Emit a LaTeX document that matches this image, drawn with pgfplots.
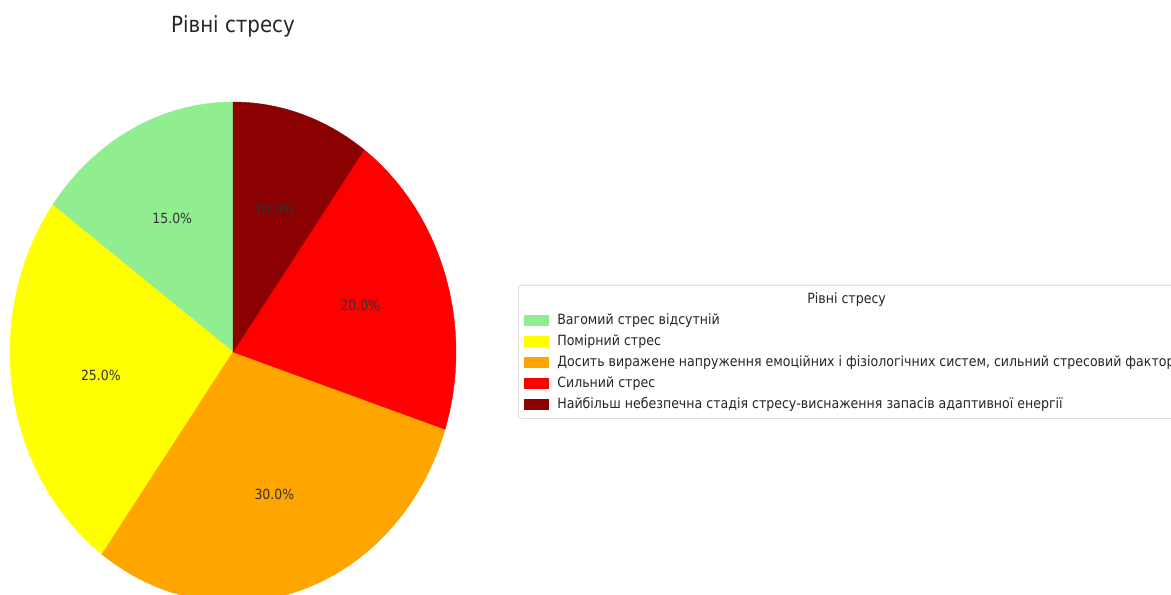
\documentclass[border=0pt]{standalone}
\usepackage{pgfplots}
\pgfplotsset{compat=1.18}
\usepackage{fontspec}
\setmainfont{DejaVu Sans}[FakeStretch=0.89]
\definecolor{lightgreen}{HTML}{90EE90}
\definecolor{pieyellow}{HTML}{FFFF00}
\definecolor{pieorange}{HTML}{FFA500}
\definecolor{piered}{HTML}{FF0000}
\definecolor{darkred}{HTML}{8B0000}
\definecolor{txt}{HTML}{262626}
\definecolor{lbl}{HTML}{333333}
\begin{document}
\begin{tikzpicture}
\useasboundingbox (0pt,0pt) rectangle (878.25pt,445.5pt);
\clip (0pt,0pt) rectangle (878.25pt,445.5pt);
\node[font=\fontsize{16.7}{20}\selectfont, text=txt] at (174.75pt,426pt) {Рівні стресу};
\begin{axis}[
  at={(174.75pt,181.5pt)}, anchor=center,
  scale only axis, width=334.5pt, height=375pt,
  xmin=-1, xmax=1, ymin=-1, ymax=1,
  hide axis, clip=false,
  legend style={at={(1.139,0.634)}, anchor=north west,
    draw=black!20, rounded corners=2pt, fill=white,
    font=\fontsize{10.6}{12.5}\selectfont, text=txt,
    inner xsep=4.5pt, inner ysep=4.5pt, row sep=3.75pt, column sep=5.5pt,
    nodes={inner sep=1pt, text height=7.8pt, text depth=2.2pt}},
  legend cell align=left,
  legend image code/.code={\fill[#1, sharp corners] (0pt,-3.5pt) rectangle (18pt,3.5pt);},
]
\addlegendimage{empty legend}
\addlegendentry{\hspace{187.5pt}Рівні стресу}
% values: 15, 25, 30, 20, 10 (percent), counter-clockwise from 90 deg
\addplot[fill=lightgreen, draw=lightgreen, line width=0.3pt, domain=90:90+3.6*15, samples=60] ({cos(x)},{sin(x)}) -- (axis cs:0,0) -- cycle;
\addlegendentry{Вагомий стрес відсутній}
\addplot[fill=pieyellow, draw=pieyellow, line width=0.3pt, domain=90+3.6*15:90+3.6*40, samples=60] ({cos(x)},{sin(x)}) -- (axis cs:0,0) -- cycle;
\addlegendentry{Помірний стрес}
\addplot[fill=pieorange, draw=pieorange, line width=0.3pt, domain=90+3.6*40:90+3.6*70, samples=60] ({cos(x)},{sin(x)}) -- (axis cs:0,0) -- cycle;
\addlegendentry{Досить виражене напруження емоційних і фізіологічних систем, сильний стресовий фактор}
\addplot[fill=piered, draw=piered, line width=0.3pt, domain=90+3.6*70:90+3.6*90, samples=60] ({cos(x)},{sin(x)}) -- (axis cs:0,0) -- cycle;
\addlegendentry{Сильний стрес}
\addplot[fill=darkred, draw=darkred, line width=0.3pt, domain=90+3.6*90:90+3.6*100, samples=60] ({cos(x)},{sin(x)}) -- (axis cs:0,0) -- cycle;
\addlegendentry{Найбільш небезпечна стадія стресу-виснаження запасів адаптивної енергії}
\begin{scope}[every node/.style={font=\fontsize{10.5}{12}\selectfont, text=lbl}]
\node at (axis cs:{0.6*cos(90+3.6*7.5)},{0.6*sin(90+3.6*7.5)}) {15.0\%};
\node at (axis cs:{0.6*cos(90+3.6*27.5)},{0.6*sin(90+3.6*27.5)}) {25.0\%};
\node at (axis cs:{0.6*cos(90+3.6*55)},{0.6*sin(90+3.6*55)}) {30.0\%};
\node at (axis cs:{0.6*cos(90+3.6*80)},{0.6*sin(90+3.6*80)}) {20.0\%};
\node at (axis cs:{0.6*cos(90+3.6*95)},{0.6*sin(90+3.6*95)}) {10.0\%};
\end{scope}
\end{axis}
\end{tikzpicture}
\end{document}
